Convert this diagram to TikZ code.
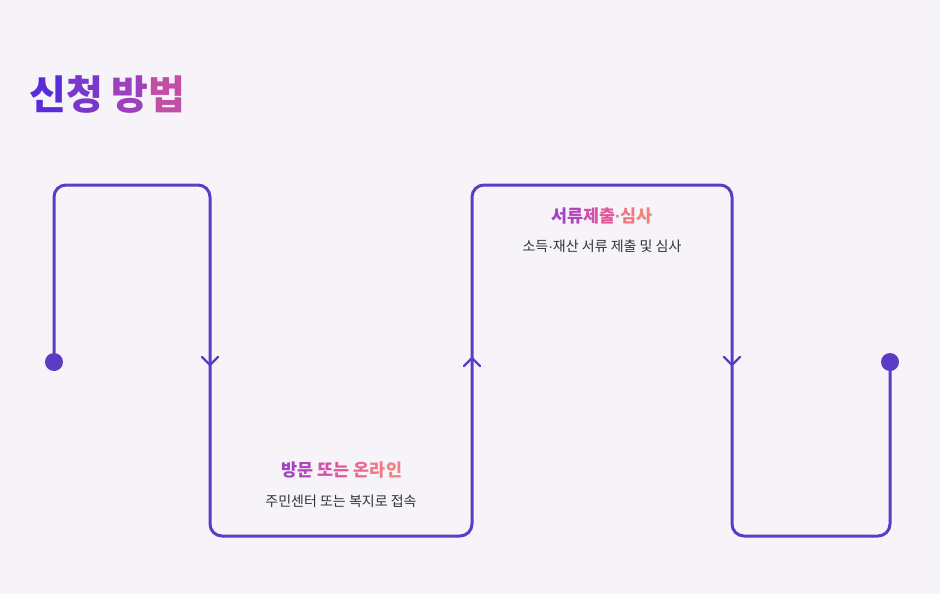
\documentclass[tikz,border=0pt]{standalone}
\usepackage{fontspec}
\newfontfamily\kr{Noto Sans CJK KR}
\newfontfamily\dotfont{Liberation Sans}
\newcommand{\mdot}{{\dotfont ·}}
\definecolor{bg}{HTML}{F6F4F9}
\definecolor{line}{HTML}{5B3CC4}
\definecolor{sub}{HTML}{333333}
\definecolor{tA}{HTML}{5A2BD9}
\definecolor{tB}{HTML}{7A37CB}
\definecolor{tC}{HTML}{9C40BD}
\definecolor{tD}{HTML}{C24FA6}
\definecolor{gA}{HTML}{A443C2}
\definecolor{gB}{HTML}{B046BA}
\definecolor{gC}{HTML}{D250A8}
\definecolor{gD}{HTML}{E2569C}
\definecolor{gE}{HTML}{EC6A8E}
\definecolor{gF}{HTML}{F07882}
\definecolor{gG}{HTML}{F2807C}
\tikzset{
  path/.style={line, line width=3pt, rounded corners=12pt, line cap=round, line join=round},
  chev/.style={line, line width=2.2pt, line cap=round, line join=round},
  dot/.style={circle, fill=line, minimum size=18pt, inner sep=0pt},
  ttl/.style={font=\kr\bfseries\fontsize{40}{44}\selectfont, anchor=west, inner sep=0pt},
  lbl/.style={font=\kr\bfseries\fontsize{17.4}{20}\selectfont, inner sep=0pt},
  sublbl/.style={font=\kr\fontsize{14}{16}\selectfont, text=sub, inner sep=0pt},
}
\begin{document}
\begin{tikzpicture}[x=1pt,y=-1pt]
\fill[bg] (0,0) rectangle (940,594);
\useasboundingbox (0,0) rectangle (940,594);
\node[ttl] (title) at (29,95) {\textcolor{tA}{신}\textcolor{tB}{청} \textcolor{tC}{방}\textcolor{tD}{법}};
\node[dot] (d1) at (54,362) {};
\node[dot] (d2) at (890,362) {};
\coordinate (c1) at (54,185);
\coordinate (c2) at (210,185);
\coordinate (c3) at (210,536);
\coordinate (c4) at (472,536);
\coordinate (c5) at (472,185);
\coordinate (c6) at (732,185);
\coordinate (c7) at (732,536);
\coordinate (c8) at (890,536);
\draw[path] (d1.center) -- (c1) -- (c2) -- (c3) -- (c4) -- (c5) -- (c6) -- (c7) -- (c8) -- (d2.center);
\coordinate (a1) at (210,365);
\coordinate (a2) at (472,358);
\coordinate (a3) at (732,365);
\draw[chev] ([shift={(-8,-8)}]a1) -- (a1) -- ([shift={(8,-8)}]a1);
\draw[chev] ([shift={(-8,8)}]a2) -- (a2) -- ([shift={(8,8)}]a2);
\draw[chev] ([shift={(-8,-8)}]a3) -- (a3) -- ([shift={(8,-8)}]a3);
\node[lbl] (l1) at (342,470) {\textcolor{gA}{방}\textcolor{gB}{문} \textcolor{gC}{또}\textcolor{gD}{는} \textcolor{gE}{온}\textcolor{gF}{라}\textcolor{gG}{인}};
\node[sublbl] (s1) at (341,501) {주민센터 또는 복지로 접속};
\node[lbl] (l2) at (602,216) {\textcolor{gA}{서}\textcolor{gB}{류}\textcolor{gC}{제}\textcolor{gD}{출}\textcolor{gE}{\mdot}\textcolor{gF}{심}\textcolor{gG}{사}};
\node[sublbl] (s2) at (602,246) {소득\mdot 재산 서류 제출 및 심사};
\end{tikzpicture}
\end{document}
